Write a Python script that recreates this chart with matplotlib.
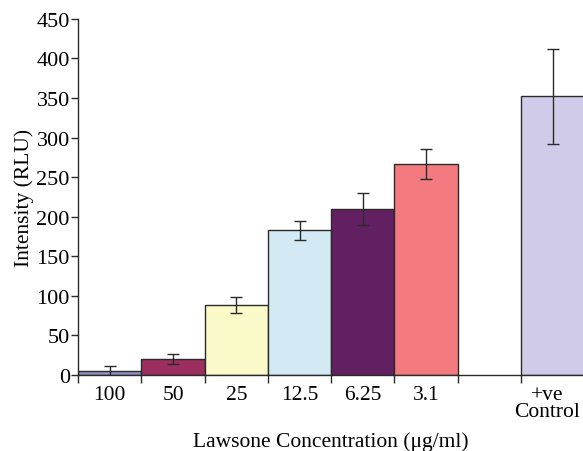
import numpy as np
import matplotlib
matplotlib.use("Agg")
import matplotlib.pyplot as plt

# Lawsone concentration groups and measured intensity
labels = ["100", "50", "25", "12.5", "6.25", "3.1", "+ve\nControl"]
positions = [0, 1, 2, 3, 4, 5, 7]
intensity = [5, 20, 88, 183, 210, 267, 352]
errors = [6, 6, 10, 12, 20, 19, 60]
colors = ["#9090c4", "#9c2f60", "#fafac8", "#d3eaf5", "#621f61", "#f37b7f", "#cfcbe8"]

plt.rcParams["font.family"] = ["Liberation Serif", "DejaVu Serif"]

fig = plt.figure(figsize=(5.83, 4.52), dpi=100)
ax = fig.add_axes([0.134, 0.168, 0.866, 0.788])

ax.bar(positions, intensity, width=1.0, color=colors, edgecolor="#2a2a2a", linewidth=1.0)
ax.errorbar(positions, intensity, yerr=errors, fmt="none", ecolor="#2a2a2a",
            elinewidth=1.0, capsize=4, capthick=1.0)

ax.set_xlim(-0.5, 7.48)
ax.set_ylim(0, 450)
ax.set_yticks(np.arange(0, 451, 50))

# ticks at bar edges, labels at bar centres
edges = [-0.5, 0.5, 1.5, 2.5, 3.5, 4.5, 5.5, 6.5]
ax.set_xticks(edges)
ax.set_xticklabels([])
# control label nudged left so it stays inside the figure
label_pos = positions[:-1] + [positions[-1] - 0.09]
ax.set_xticks(label_pos, minor=True)
ax.set_xticklabels(labels, minor=True, fontsize=15.5, linespacing=0.9)
ax.tick_params(axis="x", which="minor", length=0, pad=7)
ax.tick_params(axis="x", which="major", length=6, width=1.0, color="#2a2a2a")
ax.tick_params(axis="y", length=5, width=1.0, color="#2a2a2a", labelsize=16, pad=1)

for s in ["top", "right"]:
    ax.spines[s].set_visible(False)
for s in ["left", "bottom"]:
    ax.spines[s].set_color("#2a2a2a")
    ax.spines[s].set_linewidth(1.0)

ax.set_ylabel("Intensity (RLU)", fontsize=15.5, labelpad=2)
ax.set_xlabel("Lawsone Concentration (μg/ml)", fontsize=15.5, labelpad=7)

fig.savefig("out.png", dpi=100)
